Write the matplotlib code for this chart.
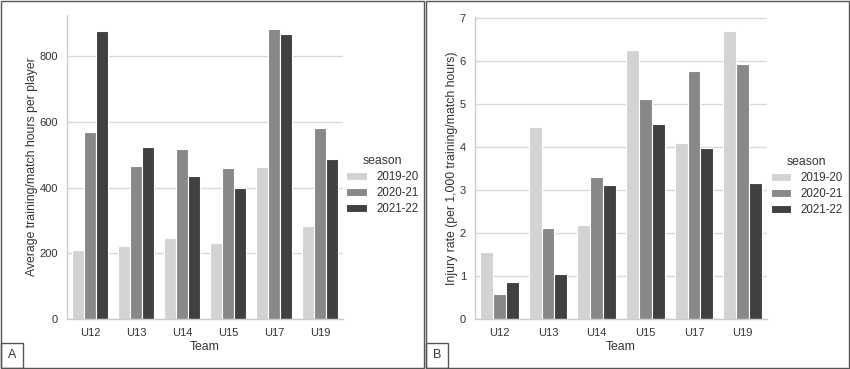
import matplotlib
matplotlib.use("Agg")
import matplotlib.pyplot as plt
import numpy as np
from matplotlib.patches import Rectangle

teams = ["U12", "U13", "U14", "U15", "U17", "U19"]
seasons = ["2019-20", "2020-21", "2021-22"]
hours_1920 = [210, 222, 246, 231, 462, 283]
hours_2021 = [568, 467, 517, 460, 881, 581]
hours_2122 = [875, 523, 436, 398, 868, 486]
rate_1920 = [1.56, 4.46, 2.19, 6.25, 4.10, 6.69]
rate_2021 = [0.57, 2.12, 3.31, 5.11, 5.76, 5.92]
rate_2122 = [0.87, 1.05, 3.11, 4.53, 3.97, 3.16]
yticks_a = [0, 200, 400, 600, 800]
yticks_b = [0, 1, 2, 3, 4, 5, 6, 7]

colors = ["#d3d3d3", "#888888", "#404040"]

plt.rcParams['font.family'] = ['Liberation Sans', 'DejaVu Sans']
W, H = 850, 369
fig = plt.figure(figsize=(W/100, H/100), dpi=100)

def ax_px(l, t, r, b):
    return fig.add_axes([l/W, 1-b/H, (r-l)/W, (b-t)/H])

def draw(ax, series, yticks, ylabel):
    x = np.arange(len(teams))
    w = 0.8/3
    for i, (vals, c, lab) in enumerate(zip(series, colors, seasons)):
        ax.bar(x + (i-1)*w, vals, width=w, color=c, edgecolor="white", linewidth=0.8, label=lab, zorder=2)
    ax.set_xlim(-0.5, len(teams)-0.5)
    ymax = max(max(s) for s in series)*1.05
    ax.set_ylim(0, ymax)
    ax.set_yticks(yticks)
    ax.set_xticks(x)
    ax.set_xticklabels(teams)
    ax.yaxis.grid(True, color="#d9d9d9", linewidth=1, zorder=0)
    ax.set_axisbelow(True)
    for s in ["top", "right"]:
        ax.spines[s].set_visible(False)
    for s in ["left", "bottom"]:
        ax.spines[s].set_color("#cccccc")
        ax.spines[s].set_linewidth(1)
    ax.tick_params(length=0, labelsize=8, colors="#333333", pad=6.5)
    ax.set_xlabel("Team", fontsize=8.8, color="#333333", labelpad=2.5)
    ax.set_ylabel(ylabel, fontsize=8.8, color="#333333", labelpad=1)
    leg = ax.legend(title="season", loc="center left", bbox_to_anchor=(1.012, 0.44),
                    bbox_transform=ax.transAxes,
                    frameon=False, fontsize=8.3, title_fontsize=8.8,
                    handlelength=1.8, handleheight=0.65, handletextpad=0.8,
                    labelspacing=0.35, borderaxespad=0.0, borderpad=0.0)
    for t in leg.get_texts():
        t.set_color("#333333")
    leg.get_title().set_color("#333333")

axA = ax_px(67, 15, 343, 319)
draw(axA, [hours_1920, hours_2021, hours_2122], yticks_a, "Average training/match hours per player")
axB = ax_px(475, 17, 767, 319)
draw(axB, [rate_1920, rate_2021, rate_2122], yticks_b, "Injury rate (per 1,000 training/match hours)")

# panel frames
for (l, r) in [(1, 424), (426, 849)]:
    fig.patches.append(Rectangle((l/W, 1/H), (r-l)/W, (H-2)/H, transform=fig.transFigure,
                                 fill=False, edgecolor="#555555", linewidth=1))
for (l, lab) in [(1, "A"), (426, "B")]:
    fig.patches.append(Rectangle((l/W, 1/H), 22/W, 25/H, transform=fig.transFigure,
                                 fill=False, edgecolor="#555555", linewidth=1))
    fig.text((l+11)/W, 1-355/H, lab, ha="center", va="center", fontsize=9, color="#333333")

fig.savefig("out.png", dpi=100)
